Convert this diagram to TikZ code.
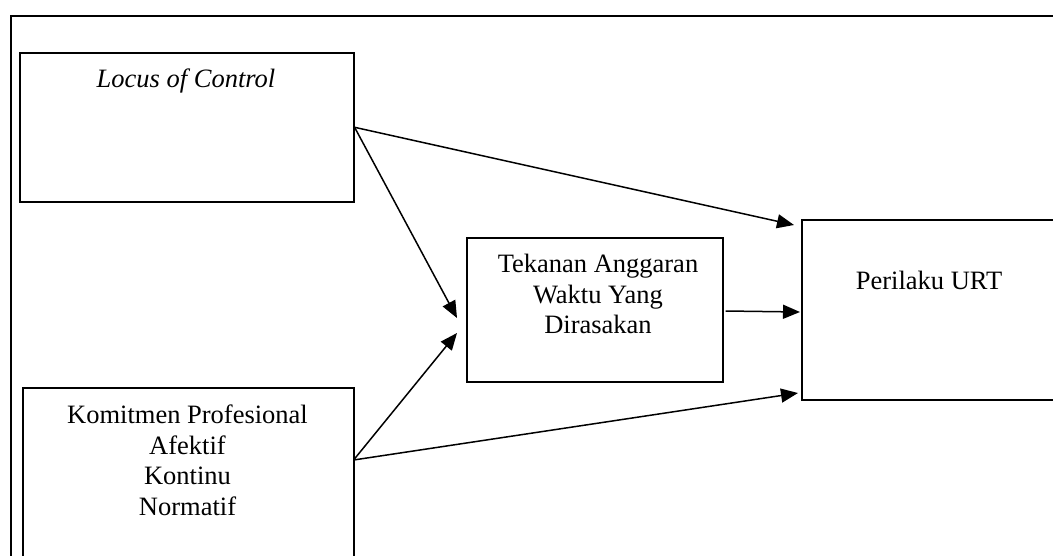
\documentclass[tikz,border=0pt]{standalone}
\usepackage{fontspec}
\setmainfont{Liberation Serif}
\usetikzlibrary{arrows.meta,calc}
\begin{document}
\begin{tikzpicture}[x=1pt,y=-1pt,
  box/.style={draw, line width=1.6pt, rectangle, inner sep=0pt, anchor=north west},
  lbl/.style={font=\fontsize{26.5}{30.5}\selectfont, align=center, inner sep=0pt, anchor=north},
  arr/.style={-{Triangle[length=17pt,width=14pt]}, line width=1.5pt}]
\useasboundingbox (0,0) rectangle (1053,555);
\clip (0,0) rectangle (1053,555);
\node[box, minimum width=1090pt, minimum height=600pt] (frame) at (10,15) {};
\node[box, minimum width=334pt, minimum height=149pt] (locus) at (19,52) {};
\node[box, minimum width=331pt, minimum height=300pt] (kom) at (22,387) {};
\node[box, minimum width=256pt, minimum height=144pt] (tek) at (466,237) {};
\node[box, minimum width=400pt, minimum height=180pt] (per) at (801,219) {};
\node[lbl] (locustxt) at (186,69) {\itshape Locus of Control};
\node[lbl] (tektxt) at (598,254) {Tekanan Anggaran\\Waktu Yang\\Dirasakan};
\node[lbl] (komtxt) at (187.5,405) {Komitmen Profesional\\Afektif\\Kontinu\\Normatif};
\node[lbl] (pertxt) at (929,271) {Perilaku URT};
\coordinate (ks) at ($(kom.north east)+(-1,73)$);
\coordinate (t1) at ($(tek.north west)+(-9,81)$);
\coordinate (t2) at ($(tek.north west)+(-9,96)$);
\coordinate (p1) at ($(per.north west)+(-7,6)$);
\coordinate (p2) at ($(per.north west)+(-1,93)$);
\coordinate (p3) at ($(per.north west)+(-3,174)$);
\coordinate (te) at ($(tek.north east)+(2,74)$);
\draw[arr] (locus.east) -- (p1);
\draw[arr] (locus.east) -- (t1);
\draw[arr] (ks) -- (t2);
\draw[arr] (ks) -- (p3);
\draw[arr] (te) -- (p2);
\end{tikzpicture}
\end{document}
